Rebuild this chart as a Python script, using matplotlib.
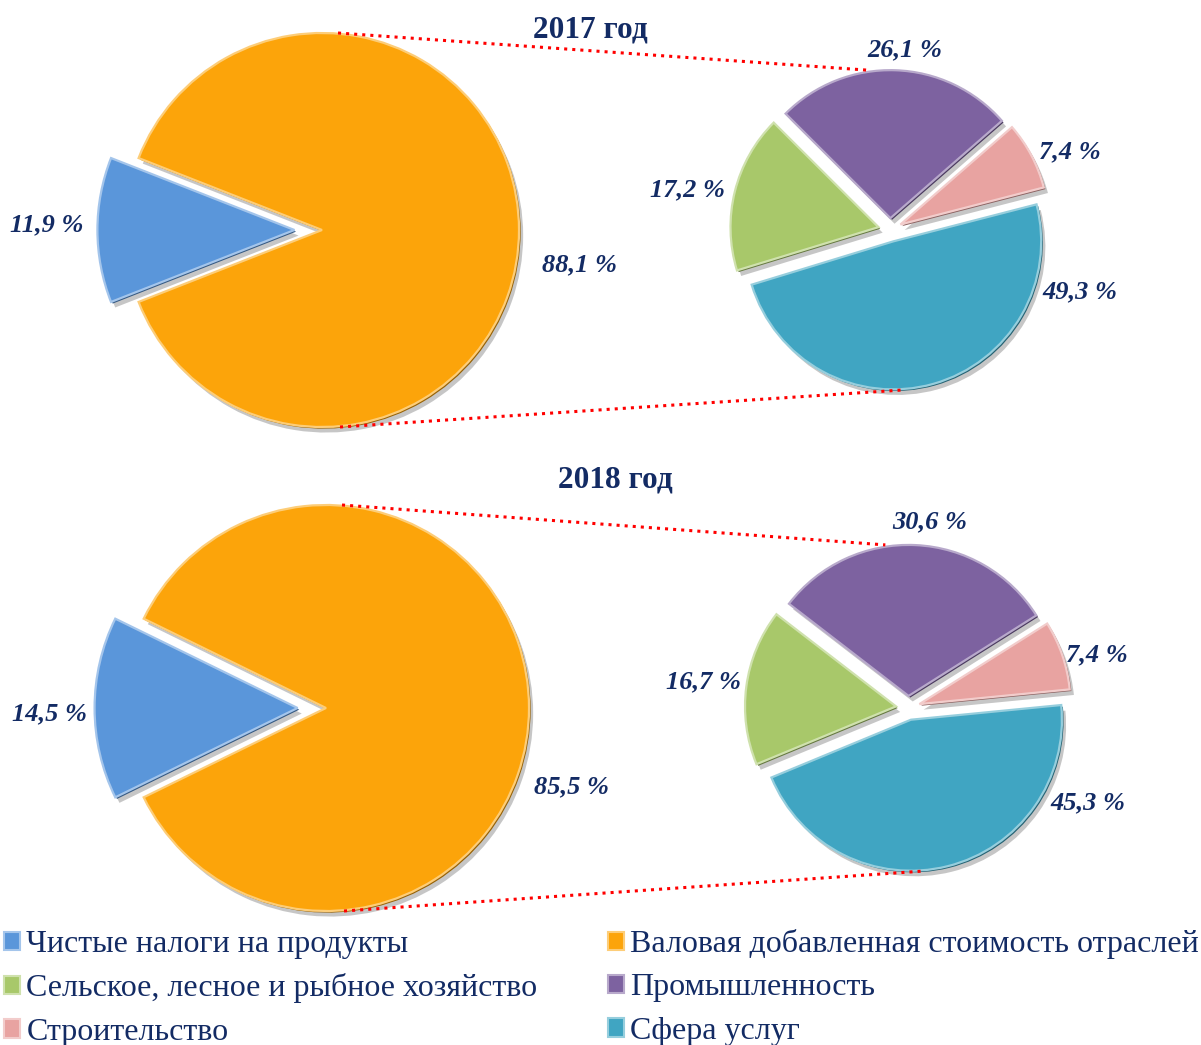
import matplotlib.pyplot as plt
import matplotlib.patheffects as pe
from matplotlib.patches import Patch
from matplotlib.colors import to_rgb

W, H = 1201, 1045

# data
years = ['2017 год', '2018 год']
main_labels = ['Чистые налоги на продукты', 'Валовая добавленная стоимость отраслей']
main_2017 = [11.9, 88.1]
main_2018 = [14.5, 85.5]
sub_labels = ['Сфера услуг', 'Строительство', 'Промышленность',
              'Сельское, лесное и рыбное хозяйство']
sub_2017 = [49.3, 7.4, 26.1, 17.2]
sub_2018 = [45.3, 7.4, 30.6, 16.7]

main_colors = ['#5A96DA', '#FCA40A']
sub_colors = ['#40A5C2', '#E8A3A1', '#7D62A0', '#A8C86A']
navy = '#132B64'

plt.rcParams['font.family'] = ['Liberation Serif', 'DejaVu Serif']

fig = plt.figure(figsize=(W / 100, H / 100), dpi=100)
ax = fig.add_axes([0, 0, 1, 1])


def lighter(c, k=0.35):
    r, g, b = to_rgb(c)
    return (r + (1 - r) * k, g + (1 - g) * k, b + (1 - b) * k)


def bevel(w, c):
    # rough imitation of the embossed look of the original
    r, g, b = to_rgb(c)
    w.set_edgecolor(lighter(c, 0.45))
    w.set_linewidth(1.6)
    w.set_path_effects([
        pe.SimplePatchShadow(offset=(3, -4), shadow_rgbFace='#444444', alpha=0.3),
        pe.SimplePatchShadow(offset=(1.2, -1.2), shadow_rgbFace=(r * 0.6, g * 0.6, b * 0.6), alpha=1),
        pe.Normal()])


def fmt(v):
    return f'{v:.1f}'.replace('.', ',') + ' %'


def draw_pair(main, sub, cL, rL, cR, rR, sub_start, main_pos, sub_pos, title, title_pos):
    # left pie: small slice centred on the left side
    start = 180 - main[0] / 100 * 360 / 2
    wl, _ = ax.pie(main, colors=main_colors, startangle=start, center=(cL[0], H - cL[1]),
                   radius=rL, explode=[0.14 * rL, 0], frame=True)
    for w, c in zip(wl, main_colors):
        bevel(w, c)
    gap = 0.08 * rR
    wr, _ = ax.pie(sub, colors=sub_colors, startangle=sub_start, center=(cR[0], H - cR[1]),
                   radius=rR, explode=[gap] * 4, frame=True)
    for w, c in zip(wr, sub_colors):
        bevel(w, c)

    for v, p in zip(main, main_pos):
        ax.text(p[0], H - p[1], fmt(v), ha='center', va='center', fontsize=19,
                fontweight='bold', fontstyle='italic', color=navy)
    for v, p in zip(sub, sub_pos):
        ax.text(p[0], H - p[1], fmt(v), ha='center', va='center', fontsize=19,
                fontweight='bold', fontstyle='italic', color=navy)
    ax.text(title_pos[0], H - title_pos[1], title, ha='center', va='center', fontsize=22.5,
            fontweight='bold', color=navy)

    # connector lines from the big pie to the small one
    top_r = (cR[0] - 0.15 * rR, H - (cR[1] - rR - gap))
    bot_r = (cR[0] + 0.1 * rR, H - (cR[1] + rR + gap))
    ax.plot([cL[0] + 16, top_r[0]], [H - (cL[1] - rL), top_r[1]], color='red', ls=':', lw=2.2)
    ax.plot([cL[0] + 18, bot_r[0]], [H - (cL[1] + rL), bot_r[1]], color='red', ls=':', lw=2.2)


draw_pair(main_2017, sub_2017, (322, 230), 197, (890, 230), 148, 197,
          [(47, 225), (580, 265)],
          [(1080, 292), (1070, 152), (905, 50), (688, 190)],
          years[0], (590, 30))
draw_pair(main_2018, sub_2018, (326, 708), 203, (908, 708), 151, 202.5,
          [(50, 714), (572, 787)],
          [(1088, 803), (1097, 655), (930, 522), (703, 682)],
          years[1], (615, 480))

ax.set_xlim(0, W)
ax.set_ylim(0, H)
ax.set_aspect('equal')
ax.axis('off')

# legend, filled column-wise
order = [(main_labels[0], main_colors[0]), (sub_labels[3], sub_colors[3]),
         (sub_labels[1], sub_colors[1]), (main_labels[1], main_colors[1]),
         (sub_labels[2], sub_colors[2]), (sub_labels[0], sub_colors[0])]
handles = [Patch(facecolor=c, edgecolor=lighter(c, 0.45), linewidth=1.5, label=l) for l, c in order]
leg = ax.legend(handles=handles, ncol=2, loc='upper left', bbox_to_anchor=(4 / W, 0.111),
                bbox_transform=fig.transFigure, frameon=False, fontsize=23,
                handlelength=0.5, handleheight=0.5, handletextpad=0.2,
                columnspacing=2.2, labelspacing=0.45, borderpad=0, borderaxespad=0)
for t in leg.get_texts():
    t.set_color(navy)

fig.savefig('out.png', dpi=100)
